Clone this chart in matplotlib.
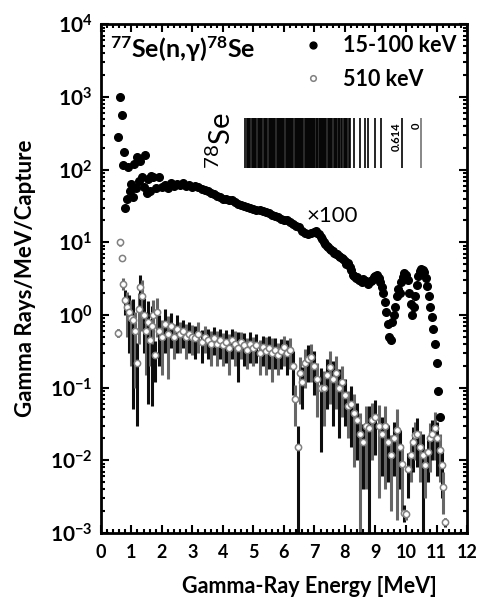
import matplotlib.pyplot as plt
from matplotlib.ticker import MultipleLocator, LogLocator, NullFormatter

plt.rcParams['font.family'] = ['Lato', 'DejaVu Sans']
plt.rcParams['font.weight'] = 'bold'
plt.rcParams['axes.labelweight'] = 'bold'
plt.rcParams['mathtext.default'] = 'regular'

# 15-100 keV spectrum, scaled x100
x_low = [0.55, 0.62, 0.68, 0.72, 0.76, 0.80, 0.85, 0.90, 0.95, 1.00, 1.05, 1.10, 1.15, 1.20,
         1.25, 1.30, 1.35, 1.40, 1.45, 1.50, 1.55, 1.60, 1.65, 1.70, 1.80, 1.90, 2.00, 2.10,
         2.20, 2.30, 2.40, 2.50, 2.60, 2.70, 2.80, 2.90, 3.00, 3.10, 3.20, 3.30, 3.40, 3.50,
         3.60, 3.70, 3.80, 3.90, 4.00, 4.10, 4.20, 4.30, 4.40, 4.50, 4.60, 4.70, 4.80, 4.90,
         5.00, 5.10, 5.20, 5.30, 5.40, 5.50, 5.60, 5.70, 5.80, 5.90, 6.00, 6.10, 6.20, 6.30,
         6.40, 6.50, 6.60, 6.70, 6.80, 6.90, 7.00, 7.05, 7.10, 7.15, 7.20, 7.25, 7.30, 7.35,
         7.40, 7.45, 7.50, 7.55, 7.60, 7.65, 7.70, 7.75, 7.80, 7.85, 7.90, 7.95, 8.00, 8.05,
         8.10, 8.15, 8.20, 8.25, 8.30, 8.35, 8.40, 8.45, 8.50, 8.55, 8.60, 8.65, 8.70, 8.75,
         8.80, 8.85, 8.90, 8.95, 9.00, 9.05, 9.10, 9.15, 9.20, 9.25, 9.30, 9.35, 9.40, 9.45,
         9.50, 9.55, 9.60, 9.65, 9.70, 9.75, 9.80, 9.85, 9.90, 9.95, 10.00, 10.05, 10.10, 10.15,
         10.20, 10.25, 10.30, 10.35, 10.40, 10.45, 10.50, 10.55, 10.60, 10.65, 10.70, 10.75,
         10.80, 10.85, 10.90, 10.95, 11.00, 11.05, 11.10]
y_low = [280, 1000, 560, 115, 175, 30, 40, 110, 50, 64, 42, 120, 55, 150,
         70, 130, 80, 58, 160, 48, 75, 50, 82, 78, 55, 80, 58, 62,
         55, 66, 60, 64, 62, 66, 60, 62, 58, 60, 57, 54, 52, 50,
         48, 46, 43, 42, 40, 39, 38, 38, 36, 34, 33, 32, 31, 30,
         29, 28, 28, 27, 26, 25, 24, 23, 22, 21, 20, 20, 19, 18,
         17, 16, 14.5, 13.5, 13, 13.5, 14, 14.5, 13.5, 13, 12, 11, 10, 9.5,
         9, 8.5, 8, 7.8, 7.5, 7.2, 7, 6.8, 6.5, 6.2, 6, 5.8, 5.5, 5.0,
         5.2, 4.6, 4.2, 3.6, 3.4, 3.2, 3.3, 3.0, 3.0, 2.8, 3.1, 2.9, 2.9, 2.7,
         2.8, 2.9, 3.0, 3.3, 3.4, 3.5, 3.2, 2.8, 2.4, 2.0, 1.5, 1.1, 0.75, 0.5,
         0.45, 0.8, 1.0, 1.3, 1.8, 2.3, 2.0, 2.8, 3.3, 3.8, 3.6, 3.0, 2.0, 1.4,
         1.0, 1.3, 1.8, 2.6, 3.4, 4.0, 4.3, 4.2, 3.9, 3.2, 2.5, 1.8,
         1.3, 0.95, 0.65, 0.4, 0.22, 0.09, 0.04]

# 510 keV spectrum with lower end of error bars
x_high = [0.55, 0.62, 0.68, 0.72, 0.78, 0.85, 0.92, 1.00, 1.05, 1.12, 1.18, 1.25, 1.30, 1.35,
          1.42, 1.48, 1.55, 1.62, 1.67, 1.72, 1.78, 1.85, 1.92, 2.00, 2.10, 2.20, 2.30, 2.40,
          2.50, 2.60, 2.70, 2.80, 2.90, 3.00, 3.10, 3.20, 3.30, 3.40, 3.50, 3.60, 3.70, 3.80,
          3.90, 4.00, 4.10, 4.20, 4.30, 4.40, 4.50, 4.60, 4.70, 4.80, 4.90, 5.00, 5.10, 5.20,
          5.30, 5.40, 5.50, 5.60, 5.70, 5.80, 5.90, 6.00, 6.10, 6.20, 6.30, 6.36, 6.45, 6.52,
          6.60, 6.70, 6.80, 6.90, 7.00, 7.10, 7.20, 7.30, 7.40, 7.50, 7.60, 7.70, 7.80, 7.90,
          8.00, 8.10, 8.20, 8.30, 8.40, 8.50, 8.60, 8.70, 8.80, 8.90, 9.00, 9.10, 9.20, 9.30,
          9.40, 9.50, 9.60, 9.70, 9.80, 9.87, 9.95, 10.00, 10.07, 10.15, 10.23, 10.30, 10.36,
          10.46, 10.55, 10.62, 10.72, 10.80, 10.85, 10.95, 11.03, 11.10, 11.17, 11.20, 11.28]
y_high = [0.57, 10, 6, 2.7, 1.6, 1.3, 1.1, 0.9, 0.85, 0.6, 0.22, 1.2, 2.4, 1.8,
          1.0, 0.6, 0.8, 0.45, 0.7, 1.0, 0.28, 1.1, 0.6, 0.5, 0.75, 0.55, 0.7, 0.5,
          0.65, 0.55, 0.6, 0.5, 0.55, 0.5, 0.48, 0.55, 0.42, 0.5, 0.45, 0.4, 0.48, 0.4,
          0.45, 0.38, 0.42, 0.35, 0.45, 0.4, 0.35, 0.42, 0.38, 0.33, 0.4, 0.35, 0.38, 0.3,
          0.36, 0.32, 0.35, 0.3, 0.33, 0.28, 0.32, 0.36, 0.3, 0.33, 0.2, 0.07, 0.015, 0.16,
          0.12, 0.22, 0.25, 0.26, 0.2, 0.13, 0.1, 0.1, 0.15, 0.19, 0.13, 0.16, 0.1, 0.12,
          0.08, 0.055, 0.06, 0.045, 0.036, 0.023, 0.018, 0.03, 0.028, 0.036, 0.04, 0.03, 0.023, 0.03,
          0.018, 0.012, 0.02, 0.026, 0.015, 0.009, 0.0019, 0.0018, 0.0077, 0.012, 0.018, 0.022, 0.023,
          0.015, 0.012, 0.0086, 0.013, 0.02, 0.023, 0.028, 0.02, 0.014, 0.0086, 0.0043, 0.0014]
y_high_lo = [0.5, 9, 5.5, 2.2, 1.0, 0.5, 0.3, 0.2, 0.05, 0.1, 0.03, 0.4, 1.2, 0.6,
             0.3, 0.15, 0.06, 0.2, 0.055, 0.4, 0.12, 0.5, 0.2, 0.15, 0.3, 0.13, 0.35, 0.25,
             0.3, 0.3, 0.35, 0.25, 0.3, 0.28, 0.25, 0.3, 0.22, 0.3, 0.25, 0.2, 0.28, 0.2,
             0.25, 0.2, 0.22, 0.15, 0.25, 0.2, 0.12, 0.25, 0.2, 0.18, 0.22, 0.2, 0.22, 0.15,
             0.2, 0.15, 0.18, 0.12, 0.18, 0.15, 0.18, 0.2, 0.15, 0.18, 0.08, 0.03, 0.0008, 0.06,
             0.05, 0.1, 0.12, 0.12, 0.08, 0.04, 0.013, 0.03, 0.05, 0.06, 0.03, 0.05, 0.02, 0.04,
             0.03, 0.02, 0.015, 0.008, 0.01, 0.0008, 0.004, 0.004, 0.0008, 0.01, 0.012, 0.003, 0.006, 0.004,
             0.005, 0.002, 0.006, 0.0015, 0.004, 0.002, 0.0014, 0.0015, 0.003, 0.005, 0.007, 0.01, 0.008,
             0.005, 0.0008, 0.003, 0.005, 0.007, 0.01, 0.01, 0.006, 0.005, 0.003, 0.0018, 0.0012]

# 78Se levels (MeV) and neutron separation energy
sn = 10.498
levels = [0.0, 0.614, 1.309, 1.499, 1.759, 1.854, 1.996, 2.190, 2.327, 2.358, 2.43, 2.46,
          2.51, 2.54, 2.59, 2.62, 2.68, 2.70, 2.75, 2.80, 2.83, 2.86, 2.91, 2.95, 2.99, 3.03,
          3.07, 3.11, 3.14, 3.18, 3.22, 3.25, 3.29, 3.33, 3.36, 3.40, 3.43, 3.47, 3.51, 3.54,
          3.57, 3.61, 3.65, 3.68, 3.72, 3.75, 3.79, 3.82, 3.86, 3.90, 3.93, 3.97, 4.00, 4.04,
          4.08, 4.11, 4.15, 4.19, 4.22, 4.26, 4.30, 4.33, 4.37, 4.41, 4.44, 4.48, 4.52, 4.55,
          4.59, 4.63, 4.66, 4.70, 4.74, 4.78, 4.81, 4.85, 4.89, 4.93, 4.96, 5.00, 5.04, 5.08,
          5.12, 5.16, 5.20, 5.24, 5.28, 5.32, 5.36, 5.40, 5.44, 5.48, 5.52, 5.56, 5.60, 5.64,
          5.68, 5.72, 5.76]

y_decades = [1e-3, 1e-2, 1e-1, 1e0, 1e1, 1e2, 1e3, 1e4]

fig = plt.figure(figsize=(4.8, 6.07), dpi=100)
ax = fig.add_axes([0.21, 0.122, 0.763, 0.838])

# error bars of the 510 keV data, alternating dark / grey
err_hi = [y + (y - lo) for y, lo in zip(y_high, y_high_lo)]
bar_cols = ['0.05' if i % 2 == 0 else '0.4' for i in range(len(x_high))]
ax.vlines(x_high, y_high_lo, err_hi, colors=bar_cols, linewidth=2.2, zorder=2)
ax.plot(x_high, y_high, 'o', ms=4.5, mfc='white', mec='0.5', mew=1.1, zorder=3,
        label='510 keV')

ax.plot(x_low, y_low, 'o', ms=5.5, color='black', zorder=4, label='15-100 keV')

# level scheme of 78Se
lev_x = [sn - e for e in levels]
lev_cols = ['0.45' if e < 0.1 else 'black' for e in levels]
ax.vlines(lev_x, 105, 520, colors=lev_cols, linewidth=1.2, zorder=1)
ax.text(sn - 0.614 - 0.2, 440, '0.614', rotation=90, fontsize=8, ha='center', va='top')
ax.text(sn - 0.0 - 0.17, 440, '0', rotation=90, fontsize=8, ha='center', va='top')
ax.text(3.95, 250, r'$^{78}$Se', rotation=90, fontsize=21, fontweight='normal',
        ha='center', va='center')

ax.text(6.75, 23, '×100', fontsize=16, fontweight='normal', va='center')
ax.text(0.025, 0.98, r'$^{77}$Se(n,$\gamma$)$^{78}$Se', transform=ax.transAxes,
        fontsize=18, va='top', ha='left')

ax.set_yscale('log')
ax.set_xlim(0, 12)
ax.set_ylim(1e-3, 1e4)
ax.xaxis.set_major_locator(MultipleLocator(1))
ax.xaxis.set_minor_locator(MultipleLocator(0.2))
ax.set_yticks(y_decades)
ax.set_yticklabels([f'$10^{{{e}}}$' for e in range(-3, 5)])
ax.yaxis.set_minor_locator(LogLocator(base=10, subs=range(2, 10), numticks=20))
ax.yaxis.set_minor_formatter(NullFormatter())
ax.xaxis.set_minor_formatter(NullFormatter())
ax.tick_params(which='both', direction='in', top=True, right=True, width=1.5)
ax.tick_params(which='major', length=6)
ax.tick_params(which='minor', length=3)
ax.tick_params(axis='x', labelsize=13, pad=8)
ax.tick_params(axis='y', labelsize=15, pad=6)
for s in ax.spines.values():
    s.set_linewidth(2)

ax.set_xlabel('Gamma-Ray Energy [MeV]', fontsize=15.5, labelpad=11, x=0.57)
ax.set_ylabel('Gamma Rays/MeV/Capture', fontsize=16, labelpad=10)

h, l = ax.get_legend_handles_labels()
ax.legend(h[::-1], l[::-1], loc='upper right', frameon=False, fontsize=15.5,
          handlelength=1.0, handletextpad=0.9, labelspacing=0.6, borderaxespad=0.1,
          markerscale=0.9)

fig.savefig('out.png', dpi=100)
